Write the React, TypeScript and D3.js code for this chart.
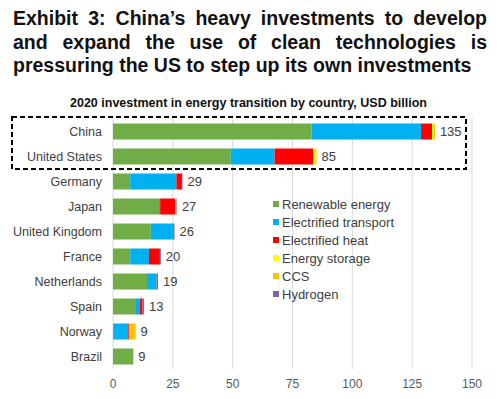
import React, { useLayoutEffect, useRef, useState } from "react";
import * as d3 from "d3";

const countries = [
  "China",
  "United States",
  "Germany",
  "Japan",
  "United Kingdom",
  "France",
  "Netherlands",
  "Spain",
  "Norway",
  "Brazil",
];
const renewable = [83, 49.2, 7.2, 19.2, 15.8, 7.2, 14.2, 9.6, 0.4, 8.5];
const transport = [45.7, 18.3, 19.3, 0.5, 9.3, 7.8, 4.0, 1.7, 6.0, 0];
const heat = [4.6, 16.2, 2.3, 6.2, 0, 4.6, 0, 1.0, 0.3, 0];
const storage = [0.6, 1.0, 0, 0, 0, 0, 0, 0, 0, 0];
const ccs = [0.6, 0.3, 0, 0.6, 0, 0, 0, 0, 2.6, 0];
const hydrogen = [0, 0, 0.2, 0.2, 0.6, 0.4, 0.6, 0.7, 0.1, 0];
const totals = [135, 85, 29, 27, 26, 20, 19, 13, 9, 9];

const seriesNames = [
  "Renewable energy",
  "Electrified transport",
  "Electrified heat",
  "Energy storage",
  "CCS",
  "Hydrogen",
];
const seriesColors = ["#70AD47", "#00B0F0", "#FF0000", "#FFFF00", "#FFC000", "#8064A2"];
const ticks = [0, 25, 50, 75, 100, 125, 150];

const titleLines = [
  "Exhibit 3: China\u2019s heavy investments to develop",
  "and expand the use of clean technologies is",
  "pressuring the US to step up its own investments",
];
const subtitle = "2020 investment in energy transition by country, USD billion";

const W = 502;
const H = 399;
const FONT = "'Liberation Sans', Arial, sans-serif";

export default function App() {
  const x = d3.scaleLinear().domain([0, 150]).range([113, 472]);
  const y = d3
    .scaleBand<string>()
    .domain(countries)
    .range([119, 369])
    .paddingInner(0.36)
    .paddingOuter(0.18);

  // rows for the stack
  const rows = countries.map((c, i) => ({
    country: c,
    s0: renewable[i],
    s1: transport[i],
    s2: heat[i],
    s3: storage[i],
    s4: ccs[i],
    s5: hydrogen[i],
  }));
  const keys = ["s0", "s1", "s2", "s3", "s4", "s5"];
  const stacked = d3.stack<any>().keys(keys)(rows);

  // title is justified: spread the words to fill each line
  const titleWidths = [474, 474, 454];
  const titleRefs = useRef<(SVGTextElement | null)[]>([]);
  const [wordSpacing, setWordSpacing] = useState([0, 0, 0]);

  useLayoutEffect(() => {
    const ws = titleLines.map((t, i) => {
      const el = titleRefs.current[i];
      if (!el) return 0;
      const natural = el.getComputedTextLength();
      const spaces = t.split(" ").length - 1;
      return Math.max(0, (titleWidths[i] - natural) / spaces);
    });
    setWordSpacing(ws);
  }, []);

  return (
    <svg
      width={W}
      height={H}
      style={{ position: "absolute", left: 0, top: 0, background: "#fff" }}
    >
      <rect width={W} height={H} fill="#fff" />
      {titleLines.map((t, i) => (
        <text
          key={i}
          ref={(el) => {
            titleRefs.current[i] = el;
          }}
          x={13}
          y={25 + i * 23.5}
          fontFamily={FONT}
          fontWeight="bold"
          fontSize={19.5}
          fill="#111"
          style={{ wordSpacing: `${wordSpacing[i]}px` }}
        >
          {t}
        </text>
      ))}
      <text
        x={70}
        y={107}
        fontFamily={FONT}
        fontWeight="bold"
        fontSize={12}
        fill="#111"
        textLength={357}
        lengthAdjust="spacingAndGlyphs"
      >
        {subtitle}
      </text>

      {/* gridlines */}
      {ticks.map((t) => (
        <line
          key={t}
          x1={x(t)}
          x2={x(t)}
          y1={118}
          y2={369}
          stroke="#d9d9d9"
          strokeWidth={1}
        />
      ))}

      {/* bars */}
      {stacked.map((layer, li) => (
        <g key={li} fill={seriesColors[li]}>
          {layer.map((d, i) =>
            d[1] - d[0] > 0 ? (
              <rect
                key={i}
                x={x(d[0])}
                y={y(countries[i])}
                width={x(d[1]) - x(d[0])}
                height={y.bandwidth()}
              />
            ) : null
          )}
        </g>
      ))}

      {/* category labels */}
      {countries.map((c) => (
        <text
          key={c}
          x={102}
          y={(y(c) as number) + y.bandwidth() / 2}
          dy="0.35em"
          textAnchor="end"
          fontFamily={FONT}
          fontSize={12.5}
          fill="#404040"
        >
          {c}
        </text>
      ))}

      {/* value labels */}
      {countries.map((c, i) => (
        <text
          key={c}
          x={x(stacked[stacked.length - 1][i][1]) + 5}
          y={(y(c) as number) + y.bandwidth() / 2}
          dy="0.35em"
          fontFamily={FONT}
          fontSize={13}
          fill="#404040"
        >
          {totals[i]}
        </text>
      ))}

      {/* tick labels */}
      {ticks.map((t) => (
        <text
          key={t}
          x={x(t)}
          y={388}
          textAnchor="middle"
          fontFamily={FONT}
          fontSize={12}
          fill="#595959"
        >
          {t}
        </text>
      ))}

      {/* legend */}
      {seriesNames.map((n, i) => (
        <g key={n} transform={`translate(273, ${204 + i * 18})`}>
          <rect x={0} y={-3} width={6} height={6} fill={seriesColors[i]} />
          <text
            x={9}
            y={0}
            dy="0.35em"
            fontFamily={FONT}
            fontSize={13}
            fill="#404040"
          >
            {n}
          </text>
        </g>
      ))}

      {/* dashed highlight box */}
      <rect
        x={12}
        y={117}
        width={454}
        height={52}
        fill="none"
        stroke="#000"
        strokeWidth={2}
        strokeDasharray="5,3"
      />
    </svg>
  );
}
